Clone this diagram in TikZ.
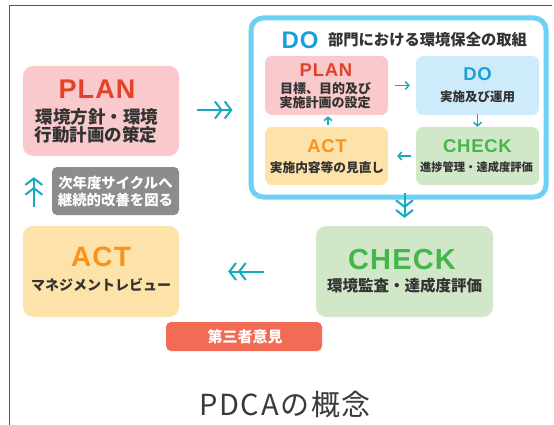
\documentclass[tikz,border=0pt]{standalone}
\usepackage{fontspec}
\setmainfont{Liberation Sans}[LetterSpace=4]
\newfontfamily\jp{Noto Sans CJK JP}
\newfontfamily\jpsp{Noto Sans CJK JP}[LetterSpace=6]
\usetikzlibrary{arrows.meta}
\definecolor{pinkF}{HTML}{F9C9CC}
\definecolor{redT}{HTML}{E4412A}
\definecolor{yelF}{HTML}{FDE3AA}
\definecolor{oraT}{HTML}{F7931E}
\definecolor{grnF}{HTML}{D0E7C8}
\definecolor{grnT}{HTML}{45B649}
\definecolor{bluF}{HTML}{CDEBFA}
\definecolor{bluT}{HTML}{1AA0DB}
\definecolor{frameC}{HTML}{6DD0F7}
\definecolor{tealA}{HTML}{17A9BE}
\definecolor{grayF}{HTML}{8C8C8E}
\definecolor{thirdF}{HTML}{F26C55}
\definecolor{txt}{HTML}{333333}
\definecolor{capC}{HTML}{3A3A3A}
\definecolor{lineC}{HTML}{555555}
\begin{document}
\begin{tikzpicture}[x=1pt,y=-1pt,
  bigbox/.style={rounded corners=10pt, draw=none, inner sep=0pt},
  smallbox/.style={rounded corners=7pt, draw=none, inner sep=0pt, minimum width=123pt},
  ttl/.style={inner sep=0pt, font=\bfseries\fontsize{#1}{#1}\selectfont},
  jtxt/.style={inner sep=0pt, text=txt, font=\jp\bfseries\fontsize{#1}{#1}\selectfont},
  wtxt/.style={inner sep=0pt, text=white, font=\jp\bfseries\fontsize{#1}{#1}\selectfont},
  bigarrow/.style={draw=tealA, line width=2pt,
    -{Straight Barb[length=6.5pt,width=17pt,line width=2pt,sep=1pt]Straight Barb[length=6.5pt,width=17pt,line width=2pt]}},
  smallarrow/.style={draw=tealA, line width=1.5pt,
    -{Straight Barb[length=3.5pt,width=8pt,line width=1.5pt]}}
]
\useasboundingbox (0,0) rectangle (554,425);
\fill[white] (0,0) rectangle (554,425);
\draw[lineC, line width=1.2pt] (9.5,425) -- (9.5,5.5) -- (552,5.5);

% big boxes
\node[bigbox, fill=pinkF, minimum width=156pt, minimum height=90pt] (plan) at (101,111) {};
\node[ttl=27, text=redT] (planT) at (97,89.5) {PLAN};
\node[jtxt=17.5] (planL1) at (97,117) {環境方針・環境};
\node[jtxt=17.5] (planL2) at (96,135) {行動計画の策定};

\node[rounded corners=5pt, fill=grayF, minimum width=127pt, minimum height=48pt, inner sep=0pt] (note) at (115.5,191) {};
\node[wtxt=14.4] (noteL1) at (115.5,183) {次年度サイクルへ};
\node[wtxt=14.4] (noteL2) at (115.5,200.5) {継続的改善を図る};

\node[bigbox, fill=yelF, minimum width=156pt, minimum height=91pt] (act) at (101,271.5) {};
\node[ttl=28, text=oraT] (actT) at (101,257) {ACT};
\node[jtxt=14] (actL) at (101,285) {マネジメントレビュー};

\node[bigbox, fill=grnF, minimum width=177pt, minimum height=91pt] (check) at (404.5,271.5) {};
\node[ttl=29, text=grnT] (checkT) at (402,260) {CHECK};
\node[jtxt=15.5] (checkL) at (404.5,285.5) {環境監査・達成度評価};

\node[rounded corners=5pt, fill=thirdF, minimum width=156pt, minimum height=29pt, inner sep=0pt] (third) at (244,336.5) {};
\node[wtxt=15] (thirdL) at (245,336.5) {第三者意見};

% DO frame
\node[rounded corners=12pt, draw=frameC, line width=5pt, fill=white, minimum width=295pt, minimum height=179pt, inner sep=0pt] (frame) at (398.5,107.5) {};
\node[ttl=24, text=bluT] (frameT) at (300,40) {DO};
\node[jtxt=15.3] (frameL) at (427.5,40) {部門における環境保全の取組};

\node[smallbox, fill=pinkF, minimum height=59pt] (ipl) at (326.5,85.5) {};
\node[ttl=18.5, text=redT] (iplT) at (326,70) {PLAN};
\node[jtxt=13] (iplL1) at (325.5,89) {目標、目的及び};
\node[jtxt=13] (iplL2) at (325,102.5) {実施計画の設定};

\node[smallbox, fill=bluF, minimum height=59pt] (ido) at (477.5,85.5) {};
\node[ttl=18.5, text=bluT] (idoT) at (477.5,74.5) {DO};
\node[jtxt=12.5] (idoL) at (477.5,97) {実施及び運用};

\node[smallbox, fill=yelF, minimum height=58pt] (iact) at (326.5,156) {};
\node[ttl=18.5, text=oraT] (iactT) at (327,146.5) {ACT};
\node[jtxt=12.7] (iactL) at (327,167.5) {実施内容等の見直し};

\node[smallbox, fill=grnF, minimum height=58pt] (ich) at (477.5,156) {};
\node[ttl=18.5, text=grnT] (ichT) at (477.5,146.5) {CHECK};
\node[jtxt=11.3] (ichL) at (476.5,167.5) {進捗管理・達成度評価};

% inner arrows
\draw[smallarrow, shorten <=7pt, shorten >=6pt] (ipl.east) -- (ido.west |- ipl.east);
\draw[smallarrow, shorten <=-1pt, shorten >=0pt] (ido.south) -- (ich.north);
\draw[smallarrow, shorten <=5pt, shorten >=9pt] (ich.west) -- (iact.east);
\draw[smallarrow, shorten <=2pt, shorten >=1pt] ([xshift=1.5pt]iact.north) -- ([xshift=1.5pt]ipl.south);

% big arrows
\draw[bigarrow, shorten <=18pt, shorten >=16pt] ([yshift=1pt]plan.east) -- ([yshift=1pt]plan.east -| frame.west);
\draw[bigarrow, shorten <=-7pt, shorten >=8pt] (check.north |- frame.south) -- (check.north);
\draw[bigarrow, shorten <=52pt, shorten >=49pt] (check.west) -- (act.east);
\draw[bigarrow, shorten <=19pt, shorten >=21pt] ([xshift=11pt]act.north west) -- ([xshift=11pt]plan.south west);

% caption
\node[inner sep=0pt, text=capC, font=\jpsp\fontsize{29}{29}\selectfont] (caption) at (285,404) {PDCAの概念};
\end{tikzpicture}
\end{document}
